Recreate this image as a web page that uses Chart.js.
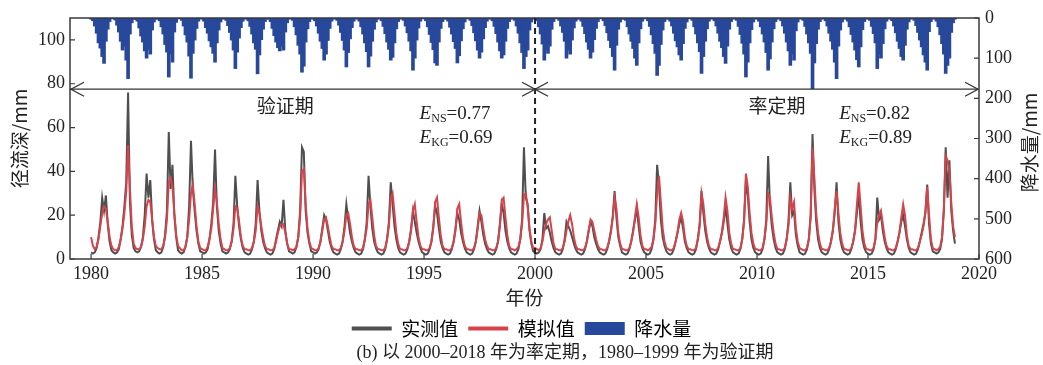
<!DOCTYPE html>
<html>
<head>
<meta charset="utf-8">
<script src="https://cdn.jsdelivr.net/npm/chart.js@4.4.1/dist/chart.umd.min.js"></script>
<style>
  html, body { margin: 0; padding: 0; background: #fff; }
</style>
</head>
<body>
<canvas id="stage" width="1043" height="365"></canvas>
<script>
// monthly series, one row = one year (Jan..Dec), 1980-2018
const startYear = 1980;
const endYear = 2018;

const observed = [
  3,2.5,3,5,10,17,28,22,29,16,8,4,
  3,2.5,3,4.5,9,15,24,35,76,26,11,5,
  3.5,3,3.5,5.5,10,20,39,28,36,18,9,4,
  3,2.5,3,5.5,11,22,58,32,43,20,10,4,
  3,2.5,3,5.5,10,24,54,32,22,13,7,3.5,
  3,2.5,3,4.5,9,16,26,50,24,13,7,3.5,
  3,2.5,3,4.5,8,16,38,24,15,9,5,3,
  2.5,2,2.5,4.5,8,16,36,22,13,8,5,3,
  2.5,2,2.5,4.5,9,13,17,15,27,13,7,3.5,
  3,2.5,3,5.5,10,22,51,49,22,12,7,3.5,
  3,2.5,3,4.5,8,14,20,18,13,8,5,3,
  2.5,2,2.5,4.5,8,15,25,18,12,8,5,3,
  2.5,2,2.5,4.5,9,17,38,24,14,8,5,3,
  2.5,2,2.5,4.5,9,17,35,25,15,9,5,3,
  2.5,2,2.5,4.5,8,14,22,17,12,8,5,3,
  2.5,2,2.5,4.5,8,15,24,21,14,8,5,3,
  2.5,2,2.5,4.5,8,14,21,18,12,8,5,3,
  2.5,2,2.5,4.5,8,15,22,17,11,7,4.5,3,
  2.5,2,2.5,4.5,8,16,25,21,13,8,5,3,
  2.5,2,2.5,4.5,9,18,51,28,25,13,7,3.5,
  3,2.5,3,4.5,9,21,14,15,12,8,5,3,
  2.5,2,2.5,4.5,9,17,15,13,10,7,4.5,3,
  2.5,2,2.5,4.5,8,13,17,15,10,7,4.5,3,
  2.5,2,2.5,4.5,8,13,19,31,19,10,6,3,
  2.5,2,2.5,4.5,8,13,18,23,15,8,5,3,
  2.5,2,2.5,4.5,9,18,43,34,18,10,6,3.5,
  2.5,2,2.5,4.5,8,12,16,19,14,8,5,3,
  2.5,2,2.5,4.5,9,16,31,21,13,8,5,3,
  2.5,2,2.5,4.5,8,12,17,24,16,9,5,3,
  2.5,2,2.5,4.5,9,18,36,29,17,9,5,3,
  2.5,2,2.5,4.5,9,18,47,25,15,9,5,3,
  2.5,2,2.5,4.5,9,17,35,20,22,11,6,3,
  2.5,2,2.5,4.5,9,20,57,32,17,9,5,3,
  2.5,2,2.5,4.5,8,13,21,35,17,9,5,3,
  2.5,2,2.5,4.5,8,13,21,30,17,9,5,3,
  2.5,2,2.5,4.5,9,28,18,20,13,8,5,3,
  2.5,2,2.5,4.5,8,12,17,20,15,9,5,3,
  2.5,2,2.5,4.5,8,12,16,21,34,16,7,3.5,
  3,2.5,3,4.5,9,22,51,28,45,22,13,7
];

const simulated = [
  10,6,4.5,5.5,9,15,21,24,23,17,10,6,
  4.5,4,4,5.5,9,14,21,31,52,32,15,7,
  5,4.5,4.5,5.5,9,15,24,27,26,18,10,6,
  5,4.5,4.5,6,10,18,35,37,33,21,11,6,
  5,4,4,5.5,10,18,30,34,25,15,8,5,
  4.5,4,4,5.5,9,14,23,32,26,16,9,5,
  4.5,4,4,5,8,14,24,23,17,10,6,4.5,
  4.5,4,4,5,8,13,24,21,15,10,6,4.5,
  4.5,4,4,5,8,12,15,16,16,12,7,4.5,
  4.5,4,4.5,5.5,10,19,40,41,25,14,8,5,
  4.5,4,4,5,8,13,18,19,15,10,6,4.5,
  4.5,4,4,5,8,13,20,21,16,10,6,4.5,
  4.5,4,4,5,9,14,25,27,19,11,6,4.5,
  4.5,4,4,5,9,15,28,30,21,12,7,4.5,
  4.5,4,4,5,8,13,22,25,17,10,6,4.5,
  4.5,4,4,5,8,14,26,28,19,11,6,4.5,
  4.5,4,4,5,8,13,23,25,17,10,6,4.5,
  4.5,4,4,5,8,14,21,20,14,9,6,4.5,
  4.5,4,4,5,8,15,27,28,19,11,6,4.5,
  4.5,4,4.5,5.5,9,16,29,30,24,14,8,5,
  5,4.5,4,5,8,13,16,18,19,13,7,4.5,
  4.5,4,4,5,8,13,17,20,16,10,6,4.5,
  4.5,4,4,5,8,13,18,17,13,9,6,4.5,
  4.5,4,4,5,8,12,19,28,23,12,7,4.5,
  4.5,4,4,5,8,12,19,25,19,11,6,4.5,
  4.5,4,4.5,5.5,9,16,30,38,26,14,8,5,
  4.5,4,4,5,8,12,18,21,17,10,6,4.5,
  4.5,4,4,5,9,15,30,25,16,10,6,4.5,
  4.5,4,4,5,8,12,19,28,22,12,7,4.5,
  4.5,4,4,5,9,17,39,33,21,12,7,4.5,
  4.5,4,4,5,9,16,30,28,19,12,7,4.5,
  4.5,4,4,5,9,15,28,23,26,14,8,5,
  4.5,4,4,5,9,19,51,37,21,12,7,4.5,
  4.5,4,4,5,8,13,23,31,21,12,7,4.5,
  4.5,4,4,5,8,13,25,35,24,13,7,4.5,
  4.5,4,4,5,9,17,20,22,16,10,6,4.5,
  4.5,4,4,5,8,12,19,25,20,11,6,4.5,
  4.5,4,4,5,8,11,15,21,33,20,9,5,
  4.5,4,4.5,5.5,10,23,47,45,40,26,15,10
];

const rain = [
  3,7,20,38,62,75,96,113,58,28,9,2,
  2,5,18,35,58,80,70,105,151,40,12,3,
  4,8,25,45,60,82,100,78,90,30,10,3,
  3,7,22,40,66,85,147,90,110,35,11,2,
  2,6,20,42,60,95,150,88,55,26,8,2,
  3,8,24,38,57,72,88,110,62,30,10,3,
  2,6,19,36,55,80,126,85,50,24,8,2,
  3,7,21,40,62,78,139,92,54,28,9,3,
  3,9,26,44,60,74,82,70,80,35,12,3,
  2,6,22,42,68,90,135,120,60,27,9,2,
  3,7,20,38,58,76,105,90,56,26,8,3,
  2,6,18,36,56,80,122,86,52,24,8,2,
  3,8,22,40,62,84,122,95,58,28,10,3,
  2,7,21,39,60,78,105,98,62,27,9,2,
  3,6,20,37,58,82,130,100,55,25,8,2,
  2,7,22,41,61,79,112,118,60,26,9,3,
  3,8,23,40,59,76,112,94,57,27,10,2,
  2,6,19,37,57,80,100,85,52,24,8,2,
  3,7,21,39,60,82,100,92,58,26,9,3,
  2,6,20,38,62,86,126,96,80,30,10,2,
  3,7,22,40,65,105,78,88,70,28,9,2,
  2,6,20,36,58,100,80,90,55,25,8,3,
  3,8,21,39,60,78,100,85,54,26,9,2,
  2,7,19,37,56,74,96,130,68,28,10,3,
  3,6,22,40,58,76,100,118,62,27,8,2,
  2,7,21,42,64,88,143,118,66,30,9,3,
  3,8,20,38,57,72,92,105,64,26,10,2,
  2,6,22,40,62,84,138,96,58,27,8,2,
  3,7,20,38,58,74,96,113,70,28,9,3,
  2,6,21,41,63,90,147,110,62,29,10,2,
  3,8,22,40,60,86,130,102,60,27,9,3,
  2,7,20,38,60,82,118,90,105,32,10,2,
  3,6,21,40,62,88,176,112,64,28,9,3,
  2,7,20,38,58,78,110,151,70,30,10,2,
  3,8,22,41,60,80,104,122,72,29,9,3,
  2,6,21,39,62,126,90,100,64,27,8,2,
  3,7,20,37,58,76,96,105,68,28,10,3,
  2,6,19,36,55,72,92,110,130,34,9,2,
  3,8,22,42,64,90,138,118,100,36,12,3
];

const yearTicks = [1980, 1985, 1990, 1995, 2000, 2005, 2010, 2015, 2020];
const runoffTicks = [0, 20, 40, 60, 80, 100];
const rainTicks = [0, 100, 200, 300, 400, 500, 600];
const splitYear = 2000;

const serif = "'Liberation Serif', 'Noto Sans CJK SC', serif";
const cjk = "'Noto Sans CJK SC', 'Liberation Serif', sans-serif";

// x value for each month
const months = [];
for (let y = startYear; y <= endYear; y++) {
  for (let m = 0; m < 12; m++) months.push(y + m / 12);
}
const pts = arr => arr.map((v, i) => ({ x: months[i], y: v }));

function arrowHead(ctx, x, y, dir) {
  ctx.beginPath();
  ctx.moveTo(x - dir * 13, y - 7);
  ctx.lineTo(x, y);
  ctx.lineTo(x - dir * 13, y + 7);
  ctx.stroke();
}

function scoreText(ctx, x, y, sub, val) {
  ctx.textAlign = 'left';
  ctx.textBaseline = 'alphabetic';
  ctx.font = "italic 19px 'Liberation Serif'";
  ctx.fillText('E', x, y);
  let w = ctx.measureText('E').width;
  ctx.font = "12px 'Liberation Serif'";
  ctx.fillText(sub, x + w, y + 3);
  w += ctx.measureText(sub).width;
  ctx.font = "19px 'Liberation Serif'";
  ctx.fillText('=' + val, x + w, y);
}

const decor = {
  id: 'decor',
  afterDatasetsDraw(chart) {
    const { ctx, chartArea: a, scales } = chart;
    const x = scales.x, y = scales.y, y2 = scales.y2;
    ctx.save();
    // frame
    ctx.strokeStyle = '#3a3a3a';
    ctx.lineWidth = 1.5;
    ctx.strokeRect(a.left, a.top, a.right - a.left, a.bottom - a.top);
    // inward ticks
    ctx.lineWidth = 1.2;
    ctx.beginPath();
    yearTicks.forEach(v => {
      const px = x.getPixelForValue(v);
      ctx.moveTo(px, a.bottom); ctx.lineTo(px, a.bottom - 5);
    });
    runoffTicks.forEach(v => {
      const py = y.getPixelForValue(v);
      ctx.moveTo(a.left, py); ctx.lineTo(a.left + 5, py);
    });
    rainTicks.forEach(v => {
      const py = y2.getPixelForValue(v);
      ctx.moveTo(a.right, py); ctx.lineTo(a.right - 5, py);
    });
    ctx.stroke();

    // split line
    const sx = x.getPixelForValue(splitYear);
    ctx.strokeStyle = '#222';
    ctx.lineWidth = 2;
    ctx.setLineDash([6, 4]);
    ctx.beginPath();
    ctx.moveTo(sx, a.top); ctx.lineTo(sx, a.bottom);
    ctx.stroke();
    ctx.setLineDash([]);

    // period arrows
    const ay = y.getPixelForValue(77.5);
    ctx.strokeStyle = '#333';
    ctx.lineWidth = 1.3;
    ctx.beginPath();
    ctx.moveTo(a.left, ay); ctx.lineTo(a.right - 1, ay);
    ctx.stroke();
    arrowHead(ctx, a.left + 1, ay, -1);
    arrowHead(ctx, sx, ay, 1);
    arrowHead(ctx, sx, ay, -1);
    arrowHead(ctx, a.right - 1, ay, 1);

    // labels
    ctx.fillStyle = '#222';
    ctx.font = "19px " + cjk;
    ctx.textAlign = 'center';
    ctx.textBaseline = 'middle';
    ctx.fillText('验证期', x.getPixelForValue(1988.75), y.getPixelForValue(70));
    ctx.fillText('率定期', x.getPixelForValue(2010.9), y.getPixelForValue(70));
    scoreText(ctx, x.getPixelForValue(1994.8), y.getPixelForValue(64), 'NS', '0.77');
    scoreText(ctx, x.getPixelForValue(1994.8), y.getPixelForValue(53), 'KG', '0.69');
    scoreText(ctx, x.getPixelForValue(2013.7), y.getPixelForValue(64), 'NS', '0.82');
    scoreText(ctx, x.getPixelForValue(2013.7), y.getPixelForValue(53), 'KG', '0.89');

    ctx.textAlign = 'center';
    ctx.textBaseline = 'middle';
    // right axis title
    ctx.save();
    ctx.translate(1030, (a.top + a.bottom) / 2 + 4);
    ctx.rotate(-Math.PI / 2);
    ctx.font = "19px " + cjk;
    ctx.fillText('降水量/mm', 0, 0);
    ctx.restore();

    // caption
    ctx.textAlign = 'center';
    ctx.textBaseline = 'middle';
    ctx.font = "18px " + serif;
    ctx.fillText('(b) 以 2000–2018 年为率定期，1980–1999 年为验证期', 565, 353);
    ctx.restore();
  }
};

new Chart(document.getElementById('stage'), {
  data: {
    datasets: [
      {
        type: 'line', label: '实测值', data: pts(observed),
        borderColor: '#4f4f4f', borderWidth: 2, pointRadius: 0,
        yAxisID: 'y', order: 1
      },
      {
        type: 'line', label: '模拟值', data: pts(simulated),
        borderColor: '#d5434b', borderWidth: 2, pointRadius: 0,
        yAxisID: 'y', order: 0
      },
      {
        type: 'bar', label: '降水量', data: pts(rain),
        backgroundColor: '#27489b', borderWidth: 0, yAxisID: 'y2',
        barThickness: 3, order: 2
      }
    ]
  },
  options: {
    responsive: false,
    animation: false,
    layout: { padding: { top: 18, bottom: 17 } },
    scales: {
      x: {
        type: 'linear', min: 1979.05, max: 2020, offset: false,
        grid: { display: false, drawTicks: false, offset: false },
        border: { display: false },
        afterBuildTicks: s => { s.ticks = yearTicks.map(v => ({ value: v })); },
        afterFit: s => { s.height = 50; },
        ticks: { font: { family: serif, size: 18 }, color: '#222', padding: 4, callback: v => String(v) },
        title: { display: true, text: '年份', font: { family: cjk, size: 19 }, color: '#222', padding: { top: 0, bottom: 0 } }
      },
      y: {
        position: 'left', min: 0, max: 110,
        grid: { display: false, drawTicks: false },
        border: { display: false },
        afterBuildTicks: s => { s.ticks = runoffTicks.map(v => ({ value: v })); },
        afterFit: s => { s.width = 70; },
        ticks: { font: { family: serif, size: 18 }, color: '#222', padding: 5 },
        title: { display: true, text: '径流深/mm', font: { family: cjk, size: 19 }, color: '#222', padding: { top: 8, bottom: 0 } }
      },
      y2: {
        position: 'right', reverse: true, min: 0, max: 600,
        grid: { display: false, drawTicks: false },
        border: { display: false },
        afterBuildTicks: s => { s.ticks = rainTicks.map(v => ({ value: v })); },
        afterFit: s => { s.width = 64; },
        ticks: { font: { family: serif, size: 18 }, color: '#222', padding: 6 }
      }
    },
    plugins: {
      tooltip: { enabled: false },
      legend: {
        position: 'bottom',
        labels: {
          font: { family: cjk, size: 19 }, color: '#222',
          usePointStyle: true, pointStyleWidth: 40, boxHeight: 13, padding: 10,
          generateLabels: () => [
            { text: '实测值', pointStyle: 'line', strokeStyle: '#4f4f4f', fillStyle: '#4f4f4f', lineWidth: 4 },
            { text: '模拟值', pointStyle: 'line', strokeStyle: '#d5434b', fillStyle: '#d5434b', lineWidth: 4 },
            { text: '降水量', pointStyle: 'rect', strokeStyle: '#27489b', fillStyle: '#27489b', lineWidth: 0 }
          ]
        }
      }
    }
  },
  plugins: [decor]
});
</script>
</body>
</html>
